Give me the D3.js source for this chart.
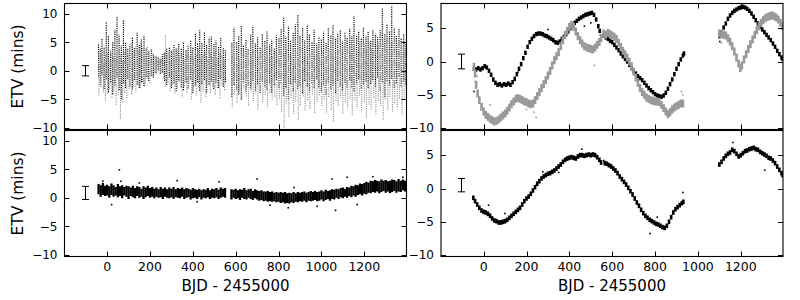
<!DOCTYPE html>
<html>
<head>
<meta charset="utf-8">
<script src="https://cdn.jsdelivr.net/npm/d3@7"></script>
<style>
  html, body { margin: 0; padding: 0; background: #fff; }
  svg { display: block; font-family: "DejaVu Sans", sans-serif; }
</style>
</head>
<body>
<svg id="chart" width="800" height="300"></svg>
<script>
// ---------------- DATA ----------------
const xTicks = [0, 200, 400, 600, 800, 1000, 1200];
const yTicksLeft = [-10, -5, 0, 5, 10];
const yTicksRight = [-10, -5, 0, 5];
const xLabel = "BJD - 2455000";
const yLabel = "ETV (mins)";

// Top-left: scatter streaks [BJD, low ETV, high ETV]
const tlBlack = [
  [-40,-1.0,4.8],[-32,-2.5,3.9],[-24,-0.8,5.6],[-14,-3.2,4.2],[-4,-1.5,8.6],[6,-3.8,6.1],[16,-2.0,3.5],
  [26,-4.1,5.2],[36,-2.6,7.2],[46,-1.2,9.6],[56,-3.4,6.3],[66,-5.0,4.4],[76,-2.2,8.9],[86,-3.0,5.1],
  [96,-1.4,3.8],[106,-2.8,4.6],[118,-3.3,5.9],[128,-1.6,4.1],[140,-2.4,6.8],[150,-3.0,4.7],[160,-2.0,5.5],
  [172,-2.7,6.2],[182,-1.1,4.0],[194,-1.8,3.4],[206,-0.9,3.8],[216,-1.2,2.9],[228,-0.4,2.6],[238,0.2,2.4],
  [248,-0.5,2.2],[258,-0.3,2.9],[268,-1.8,3.3],[278,-2.5,3.9],[290,-1.2,4.2],[300,-3.0,3.6],[312,-2.2,4.5],
  [322,-3.6,3.9],[334,-1.7,4.8],[346,-2.9,4.0],[356,-3.4,5.1],[368,-2.0,3.7],[378,-3.1,4.4],[390,-1.5,5.4],
  [400,-3.9,4.1],[412,-2.6,6.6],[422,-2.0,4.9],[432,-3.5,7.3],[442,-2.3,5.0],[454,-1.6,6.9],[464,-3.8,4.6],
  [476,-2.4,5.8],[486,-1.9,6.2],[498,-3.2,4.7],[508,-2.1,5.3],[520,-3.0,4.3],[530,-1.4,5.9],[542,-2.8,4.1],
  [552,-2.0,3.6],[582,-4.6,4.9],[592,-2.5,7.6],[604,-3.3,5.2],[614,-4.2,6.1],[626,-5.1,7.9],[636,-2.0,4.4],
  [648,-3.7,5.6],[658,-2.6,3.9],[670,-3.1,6.3],[680,-1.8,7.9],[692,-3.5,4.8],[702,-2.4,5.9],[714,-3.9,4.2],
  [724,-1.9,6.5],[736,-2.7,5.3],[746,-3.3,6.9],[758,-2.1,4.6],[768,-3.8,5.5],[780,-2.5,4.0],[790,-1.6,6.2],
  [802,-3.0,5.7],[812,-2.2,7.4],[824,-4.4,9.4],[834,-2.9,6.0],[846,-5.0,7.8],[856,-2.3,5.4],[868,-3.6,6.7],
  [878,-2.0,8.1],[890,-3.2,9.8],[900,-2.6,6.2],[912,-3.9,7.5],[922,-1.8,5.3],[934,-2.7,8.0],[944,-3.5,6.4],
  [956,-2.2,5.1],[966,-3.0,7.2],[978,-1.5,4.8],[988,-2.9,6.0],[1000,-3.6,5.5],[1010,-2.4,6.9],[1022,-4.2,5.0],
  [1032,-2.0,7.6],[1044,-3.3,6.3],[1054,-2.6,8.0],[1066,-3.9,5.8],[1076,-1.8,6.6],[1088,-2.8,7.1],[1098,-3.4,5.2],
  [1110,-2.1,6.8],[1120,-3.0,5.9],[1132,-1.7,7.4],[1142,-2.9,6.1],[1152,-3.6,9.6],[1164,-2.2,6.3],[1174,-1.5,7.0],
  [1186,-3.1,5.6],[1196,-2.4,7.7],[1208,-1.9,6.0],[1218,-3.0,6.8],[1230,-2.3,5.4],[1240,-1.6,7.3],[1252,-2.8,6.5],
  [1262,-1.2,5.9],[1274,-3.5,7.1],[1284,-2.0,11.1],[1296,-4.6,6.4],[1306,-1.8,8.2],[1318,-2.6,6.9],[1328,-1.4,11.4],
  [1340,-3.0,7.5],[1350,-2.2,6.1],[1362,-1.0,7.4],[1372,-2.7,5.8],[1384,-1.9,6.6],[1394,-2.4,4.9]
];
const tlGrey = [
  [-38,-4.4,2.0],[-28,-2.9,3.6],[-18,-3.8,1.6],[-8,-5.2,2.9],[2,-4.0,3.4],[12,-3.2,1.9],[22,-4.7,3.1],
  [32,-3.5,2.5],[42,-6.0,2.2],[52,-4.3,3.8],[62,-8.4,2.7],[72,-5.5,1.8],[82,-3.9,3.3],[92,-4.8,4.1],
  [102,-3.2,3.0],[114,-4.1,5.0],[124,-2.7,3.9],[134,-3.6,4.4],[146,-2.5,3.5],[156,-3.0,5.1],[166,-2.0,4.0],
  [178,-2.6,3.2],[188,-1.4,4.2],[200,-2.2,2.9],[210,-0.9,3.3],[222,-0.6,2.6],[232,-0.2,2.3],[242,0.0,2.2],
  [252,-0.4,2.5],[262,-1.5,3.0],[272,-2.8,6.3],[284,-2.0,3.4],[294,-3.6,2.8],[306,-2.4,3.5],[316,-4.0,2.6],
  [328,-3.1,3.9],[338,-2.0,2.4],[350,-4.5,3.1],[360,-2.7,2.0],[372,-3.8,3.6],[382,-2.3,2.7],[394,-5.0,3.3],
  [404,-3.3,2.2],[416,-4.4,3.0],[426,-2.9,3.8],[438,-5.6,2.5],[448,-3.7,2.9],[460,-4.6,3.4],[470,-2.5,2.1],
  [482,-3.9,3.2],[492,-2.8,2.6],[504,-4.2,3.6],[514,-3.0,2.3],[526,-4.8,3.1],[536,-2.6,2.8],[548,-3.4,2.0],
  [584,-6.5,3.3],[594,-4.2,2.5],[606,-5.6,3.7],[616,-3.6,2.2],[628,-5.0,3.0],[638,-3.1,3.5],[650,-4.5,2.4],
  [660,-6.1,3.1],[672,-3.7,2.7],[682,-5.3,3.9],[694,-4.0,2.0],[704,-6.8,3.3],[716,-3.5,2.6],[726,-5.5,3.6],
  [738,-4.2,2.1],[748,-6.3,3.0],[760,-3.9,3.8],[770,-5.1,2.4],[782,-4.6,3.3],[792,-6.0,2.8],[804,-4.9,3.6],
  [814,-7.2,2.3],[826,-10.0,3.0],[836,-5.8,3.7],[848,-8.1,2.5],[858,-4.8,3.2],[870,-7.6,2.0],[880,-5.4,3.5],
  [892,-8.6,2.7],[902,-6.0,3.9],[914,-4.5,2.2],[924,-7.0,3.1],[936,-5.2,2.6],[946,-6.6,3.4],[958,-4.1,2.0],
  [968,-7.4,3.0],[980,-5.5,3.8],[990,-4.3,2.4],[1002,-6.2,3.5],[1012,-5.0,2.7],[1024,-7.3,3.2],[1034,-4.6,4.0],
  [1046,-6.8,2.9],[1056,-8.9,3.6],[1068,-5.3,2.5],[1078,-6.1,3.9],[1090,-4.8,3.1],[1100,-7.5,4.2],[1112,-5.6,2.8],
  [1122,-6.5,3.7],[1134,-4.9,4.4],[1144,-7.9,3.3],[1156,-5.2,4.6],[1166,-6.4,3.5],[1178,-4.4,5.0],[1188,-7.0,3.9],
  [1200,-5.5,4.8],[1210,-8.3,4.1],[1222,-5.9,5.3],[1232,-6.8,3.8],[1244,-4.7,5.6],[1254,-7.6,4.5],[1266,-5.3,5.1],
  [1276,-6.2,4.0],[1288,-8.6,5.7],[1298,-5.0,4.3],[1310,-6.9,5.9],[1320,-4.6,4.6],[1332,-7.2,5.2],[1342,-5.7,6.2],
  [1354,-6.4,4.8],[1364,-4.9,5.5],[1376,-7.7,4.2],[1386,-5.1,5.0],[1396,-3.8,4.4]
];

// Bottom-left: scatter band [BJD, low ETV, high ETV] and isolated points [BJD, ETV]
const blBand = [
  [-40,0.6,2.4],[-30,0.2,2.2],[-20,0.5,2.6],[-10,0.3,2.1],[0,0.4,2.3],[10,0.0,2.0],[20,0.5,2.5],[30,0.2,2.2],
  [40,0.4,1.9],[50,0.1,2.4],[60,0.3,2.0],[70,-0.1,2.2],[80,0.4,1.9],[90,0.2,2.1],[100,-0.2,2.0],[110,0.3,1.8],
  [120,0.1,2.1],[130,-0.1,1.7],[140,0.3,2.0],[150,0.0,1.9],[160,0.2,1.6],[170,-0.2,2.0],[180,0.1,1.8],[190,0.3,2.1],
  [200,0.0,1.7],[210,0.2,1.9],[220,-0.1,1.6],[230,0.2,1.8],[240,0.0,1.5],[250,0.1,1.9],[260,-0.2,1.6],[270,0.2,1.8],
  [280,0.0,1.5],[290,-0.1,1.8],[300,0.1,1.6],[310,-0.2,1.9],[320,0.1,1.5],[330,0.0,1.7],[340,-0.1,1.6],[350,0.2,1.8],
  [360,-0.2,1.5],[370,0.0,1.7],[380,0.1,1.6],[390,-0.3,1.4],[400,-0.1,1.7],[410,0.0,1.5],[420,-0.2,1.4],[430,0.1,1.6],
  [440,-0.3,1.3],[450,0.0,1.5],[460,-0.1,1.4],[470,0.1,1.7],[480,-0.2,1.3],[490,0.0,1.6],[500,-0.1,1.5],[510,0.1,1.7],
  [520,-0.2,1.4],[530,0.0,1.8],[540,0.2,1.6],[550,0.0,1.7],
  [580,-0.3,1.5],[590,0.0,1.4],[600,-0.2,1.6],[610,-0.1,1.3],[620,-0.4,1.5],[630,0.0,1.4],[640,-0.2,1.7],[650,-0.3,1.3],
  [660,0.0,1.5],[670,-0.2,1.6],[680,-0.4,1.2],[690,-0.1,1.5],[700,-0.3,1.3],[710,-0.5,1.2],[720,-0.4,1.3],[730,-0.6,1.1],
  [740,-0.5,1.1],[750,-0.7,1.2],[760,-0.6,1.0],[770,-0.7,1.1],[780,-0.6,0.9],[790,-0.8,1.0],[800,-0.7,0.9],[810,-0.9,1.0],
  [820,-0.8,0.9],[830,-1.0,1.0],[840,-0.9,0.8],[850,-1.0,0.9],[860,-0.8,0.8],[870,-0.9,1.0],[880,-0.7,0.8],[890,-0.8,1.0],
  [900,-0.6,0.9],[910,-0.7,1.0],[920,-0.5,1.1],[930,-0.8,0.9],[940,-0.5,1.0],[950,-0.6,1.2],[960,-0.5,1.0],[970,-0.4,1.2],
  [980,-0.6,1.0],[990,-0.5,1.1],[1000,-0.3,1.3],[1010,-0.6,1.1],[1020,-0.4,1.4],[1030,-0.2,1.2],[1040,-0.5,1.3],[1050,-0.2,1.5],
  [1060,-0.3,1.4],[1070,0.0,1.6],[1080,-0.2,1.5],[1090,0.1,1.7],[1100,-0.1,1.8],[1110,0.2,1.6],[1120,0.0,1.9],[1130,0.3,1.8],
  [1140,0.1,2.1],[1150,0.4,2.0],[1160,0.2,2.3],[1170,0.5,2.2],[1180,0.6,2.5],[1190,0.4,2.4],[1200,0.7,2.6],[1210,0.6,2.8],
  [1220,0.9,2.7],[1230,0.8,3.0],[1240,1.0,2.9],[1250,0.9,3.1],[1260,1.1,3.0],[1270,0.8,2.9],[1280,1.0,3.2],[1290,1.2,3.0],
  [1300,0.9,3.1],[1310,1.1,2.9],[1320,0.8,3.0],[1330,1.0,3.2],[1340,1.2,3.1],[1350,0.9,2.9],[1360,1.1,3.3],[1370,1.0,3.0],
  [1380,1.3,3.2],[1390,1.1,3.0]
];
const blOutliers = [
  [57,4.9],[64,2.9],[21,-1.2],[327,3.0],[700,3.3],[1050,3.3],[1120,3.6],[1066,-2.2],[845,-1.75],
  [1167,-1.2],[522,2.8],[872,1.8],[-20,2.9],[150,2.6],[420,-0.7],[760,-1.3],[980,-1.5],[1240,3.7],[1380,3.6]
];

// Top-right: [BJD, ETV]
const trBlack = [
  [-45,-1.1],[-35,-1.2],[-25,-1.0],[-15,-1.2],[-5,-1.0],[5,-0.7],[15,-0.9],[25,-1.4],[35,-2.0],[45,-2.7],
  [55,-3.2],[65,-3.5],[75,-3.4],[85,-3.6],[95,-3.4],[105,-3.5],[115,-3.3],[125,-3.5],[135,-3.1],[145,-2.6],
  [155,-1.9],[165,-1.1],[175,-0.4],[185,0.5],[195,1.3],[205,2.2],[215,2.9],[225,3.4],[235,3.8],[245,4.1],
  [255,4.2],[265,4.2],[275,4.1],[285,3.9],[295,3.8],[305,3.6],[315,3.4],[325,3.2],[335,2.9],[345,2.8],
  [355,3.0],[365,3.4],[375,3.7],[385,4.1],[395,4.5],[405,5.0],[415,5.4],[425,5.8],[435,6.1],[445,6.4],
  [455,6.6],[465,6.8],[475,7.0],[485,7.1],[495,7.2],[505,7.3],[515,7.0],[525,6.3],[535,5.3],[542,4.6],
  [560,3.9],[570,3.6],[580,3.4],[590,3.1],[600,2.9],[610,2.5],[620,2.1],[630,1.7],[640,1.2],[650,0.8],
  [660,0.4],[670,0.0],[680,-0.5],[690,-1.0],[700,-1.4],[710,-1.8],[720,-2.2],[730,-2.5],[740,-2.8],[750,-3.2],
  [760,-3.6],[770,-4.0],[780,-4.3],[790,-4.6],[800,-4.9],[810,-5.1],[820,-5.2],[830,-5.3],[840,-5.1],[850,-4.7],
  [860,-4.1],[870,-3.4],[880,-2.7],[890,-1.9],[900,-1.1],[910,-0.4],[920,0.3],[930,0.9],[935,1.2],
  [1100,3.8],[1110,4.4],[1120,5.1],[1130,5.7],[1140,6.4],[1150,6.9],[1160,7.3],[1170,7.6],[1180,7.8],[1190,8.0],
  [1200,8.1],[1210,8.2],[1220,8.1],[1230,7.9],[1240,7.6],[1250,7.2],[1260,6.7],[1270,6.2],[1280,5.7],[1290,5.2],
  [1300,4.8],[1310,4.4],[1320,4.0],[1330,3.6],[1340,3.2],[1350,2.7],[1360,2.2],[1370,1.6],[1380,1.1],[1390,0.6],[1395,0.4]
];
const trBlackOutliers = [[-45,-4.5],[160,-1.6],[470,5.3],[500,5.8],[545,4.0],[860,-4.2],[1102,3.0],[300,4.8],[620,3.0]];
const trGrey = [
  [-45,-0.8],[-40,-1.8],[-35,-3.5],[-28,-4.8],[-20,-5.8],[-10,-6.8],[0,-7.5],[10,-8.0],[20,-8.3],[30,-8.6],
  [40,-8.8],[50,-9.0],[60,-8.9],[70,-8.7],[80,-8.4],[90,-8.1],[100,-7.8],[110,-7.4],[120,-6.9],[130,-6.4],
  [140,-6.0],[150,-5.6],[160,-5.5],[170,-5.6],[180,-5.8],[190,-6.0],[200,-6.1],[210,-6.3],[220,-6.4],[230,-6.3],
  [240,-5.8],[250,-5.2],[260,-4.6],[270,-4.0],[280,-3.4],[290,-2.8],[300,-2.1],[310,-1.4],[320,-0.6],[330,0.2],
  [340,0.8],[350,1.4],[360,2.3],[370,3.2],[380,4.0],[390,4.6],[400,5.2],[410,5.5],[420,5.2],[430,4.5],
  [440,3.8],[450,3.2],[460,2.7],[470,2.3],[480,2.1],[490,2.0],[500,1.9],[510,1.8],[520,2.1],[530,2.5],
  [540,2.9],[548,3.5],
  [560,4.2],[570,4.0],[580,4.3],[590,4.1],[600,3.9],[610,3.7],[620,3.4],[630,2.8],[640,2.2],[650,1.6],
  [660,1.1],[670,0.6],[680,0.0],[690,-0.7],[700,-1.5],[710,-2.4],[720,-3.2],[730,-4.0],[740,-4.6],[750,-5.0],
  [760,-5.4],[770,-5.6],[780,-5.8],[790,-5.9],[800,-6.0],[810,-6.0],[820,-6.1],[830,-6.5],[840,-7.0],[850,-7.5],
  [860,-7.9],[870,-7.6],[880,-7.2],[890,-6.9],[900,-6.7],[910,-6.5],[920,-6.3],[930,-6.3],
  [1100,4.2],[1110,4.1],[1120,4.0],[1130,3.9],[1140,3.5],[1150,3.0],[1160,2.3],[1170,1.5],[1180,0.6],[1190,-0.3],
  [1198,-1.0],[1205,-0.6],[1215,0.3],[1225,1.1],[1235,1.9],[1245,2.6],[1255,3.3],[1265,4.0],[1275,4.7],[1285,5.3],
  [1295,5.8],[1305,6.2],[1315,6.5],[1325,6.7],[1335,6.8],[1345,6.9],[1355,6.8],[1365,6.6],[1375,6.3],[1385,5.8],[1395,5.3]
];
const trGreyOutliers = [[-40,-3.0],[30,-6.5],[200,-7.2],[245,-8.4],[235,-7.6],[517,-0.6],[923,-4.5],[1109,2.8],[930,-5.0],[-30,-2.2]];

// Bottom-right: [BJD, ETV]
const brBlack = [
  [-48,-1.4],[-40,-1.9],[-30,-2.4],[-20,-2.9],[-10,-3.3],[0,-3.5],[10,-3.6],[20,-3.8],[30,-4.1],[40,-4.5],
  [50,-4.8],[60,-4.9],[70,-5.1],[80,-5.1],[90,-5.0],[100,-4.9],[110,-4.7],[120,-4.4],[130,-4.1],[140,-3.8],
  [150,-3.5],[160,-3.2],[170,-2.9],[180,-2.4],[190,-1.9],[200,-1.5],[210,-1.2],[220,-0.8],[230,-0.3],[240,0.2],
  [250,0.7],[260,1.1],[270,1.5],[280,1.8],[290,2.0],[300,2.2],[310,2.3],[320,2.5],[330,2.7],[340,3.0],
  [350,3.3],[360,3.6],[370,4.0],[380,4.3],[390,4.5],[400,4.6],[410,4.7],[420,4.6],[430,4.5],[440,4.8],
  [450,5.0],[460,5.0],[470,4.9],[480,5.0],[490,5.1],[500,5.0],[510,5.1],[520,5.0],[530,4.7],[540,4.3],[548,3.9],
  [565,3.8],[575,3.7],[585,3.5],[595,3.3],[605,3.0],[615,2.7],[625,2.3],[635,1.8],[645,1.4],[655,1.0],
  [665,0.6],[675,0.1],[685,-0.4],[695,-0.9],[705,-1.5],[715,-2.1],[725,-2.6],[735,-3.2],[745,-3.7],[755,-4.1],
  [765,-4.4],[775,-4.7],[785,-4.9],[795,-5.1],[805,-5.3],[815,-5.4],[825,-5.6],[835,-5.8],[845,-5.9],[855,-5.6],
  [865,-5.0],[875,-4.3],[885,-3.6],[895,-3.1],[905,-2.8],[915,-2.5],[925,-2.2],[932,-2.0],
  [1100,3.6],[1110,4.0],[1120,4.5],[1130,4.9],[1140,5.2],[1150,5.4],[1160,5.8],[1170,5.6],[1180,5.2],[1190,4.8],
  [1200,5.0],[1210,5.3],[1220,5.6],[1230,5.7],[1240,5.9],[1250,6.0],[1260,6.1],[1270,5.9],[1280,5.8],[1290,5.5],
  [1300,5.3],[1310,5.1],[1320,4.9],[1330,4.6],[1340,4.5],[1350,4.2],[1360,3.8],[1370,3.3],[1380,2.8],[1390,2.3],[1395,2.0]
];
const brOutliers = [[23,-2.5],[99,-3.75],[276,2.5],[458,5.9],[777,-6.75],[930,-0.6],[1163,6.9],[1312,2.75],[560,4.2],[810,-4.3],[350,2.4]];

// Typical timing uncertainty shown at BJD -100: [BJD, ETV, error]
const errTL = [-100, 0.0, 0.9];
const errTR = [-100, 0.0, 1.1];
const errBL = [-100, 0.85, 1.15];
const errBR = [-100, 0.5, 1.0];

// ---------------- DRAWING ----------------
const svg = d3.select("#chart");
const BLACK = "#000", GREY = "#999999";
const xDomain = [-199, 1397];
const leftDomain = [-10.3, 11.8];
const rightDomain = [-10.2, 8.7];

const panels = [
  {id:"tl", x0:64.5, y0:3.5, w:342, h:126, yd:leftDomain, yt:yTicksLeft, xlab:false, ylab:true},
  {id:"tr", x0:441, y0:3.5, w:342, h:126, yd:rightDomain, yt:yTicksRight, xlab:false, ylab:false},
  {id:"bl", x0:64.5, y0:130.5, w:342, h:126, yd:leftDomain, yt:yTicksLeft, xlab:true, ylab:true},
  {id:"br", x0:441, y0:130.5, w:342, h:126, yd:rightDomain, yt:yTicksRight, xlab:true, ylab:false}
];

const defs = svg.append("defs");
panels.forEach(p => {
  p.x = d3.scaleLinear().domain(xDomain).range([p.x0, p.x0 + p.w]);
  p.y = d3.scaleLinear().domain(p.yd).range([p.y0 + p.h, p.y0]);
  defs.append("clipPath").attr("id", "clip-" + p.id)
    .append("rect").attr("x", p.x0).attr("y", p.y0).attr("width", p.w).attr("height", p.h);
  p.g = svg.append("g").attr("clip-path", `url(#clip-${p.id})`);
});
const P = Object.fromEntries(panels.map(p => [p.id, p]));

function streaks(p, data, color, width, dash) {
  p.g.append("g").selectAll("line").data(data).join("line")
    .attr("x1", d => p.x(d[0])).attr("x2", d => p.x(d[0]))
    .attr("y1", d => p.y(d[1])).attr("y2", d => p.y(d[2]))
    .attr("stroke", color).attr("stroke-width", width)
    .attr("stroke-dasharray", dash);
}
function band(p, data, color, spread, width) {
  p.g.append("g").selectAll("rect").data(data).join("rect")
    .attr("x", d => p.x(d[0]) - width / 2)
    .attr("y", d => p.y(d[1] + spread))
    .attr("width", width)
    .attr("height", d => p.y(d[1] - spread) - p.y(d[1] + spread))
    .attr("fill", color);
}
function dots(p, data, color, s) {
  p.g.append("g").selectAll("rect").data(data).join("rect")
    .attr("x", d => p.x(d[0]) - s / 2).attr("y", d => p.y(d[1]) - s / 2)
    .attr("width", s).attr("height", s).attr("fill", color);
}
function errbar(p, e) {
  const g = svg.append("g").attr("stroke", BLACK).attr("stroke-width", 1).attr("fill", "none");
  const cx = Math.round(p.x(e[0])) - 0.5;
  g.append("line").attr("x1", cx).attr("x2", cx).attr("y1", p.y(e[1] - e[2])).attr("y2", p.y(e[1] + e[2]));
  [e[1] - e[2], e[1] + e[2]].forEach(v =>
    g.append("line").attr("x1", cx - 3.5).attr("x2", cx + 3.5).attr("y1", p.y(v)).attr("y2", p.y(v)));
}

// Top-left
streaks(P.tl, tlBlack, BLACK, 1.15, "1.2 1");
streaks(P.tl, tlGrey, GREY, 1.15, "1.2 1");
// Top-right
band(P.tr, trBlack, BLACK, 0.33, 2.6);
dots(P.tr, trBlackOutliers, BLACK, 1.6);
band(P.tr, trGrey, GREY, 0.6, 2.6);
dots(P.tr, trGreyOutliers, GREY, 1.6);
// Bottom-left
streaks(P.bl, blBand, BLACK, 2.3, null);
dots(P.bl, blOutliers, BLACK, 1.6);
// Bottom-right
band(P.br, brBlack, BLACK, 0.35, 2.6);
dots(P.br, brOutliers, BLACK, 1.6);

errbar(P.tl, errTL); errbar(P.tr, errTR); errbar(P.bl, errBL); errbar(P.br, errBR);

// Frames, ticks and labels
const fmt = v => (v < 0 ? "\u2212" + Math.abs(v) : String(v));
panels.forEach(p => {
  const ax = svg.append("g").attr("stroke", BLACK).attr("stroke-width", 1);
  const T = 5;
  p.yt.forEach(v => {
    const yy = Math.round(p.y(v)) + 0.5;
    ax.append("line").attr("x1", p.x0).attr("x2", p.x0 + T).attr("y1", yy).attr("y2", yy);
    ax.append("line").attr("x1", p.x0 + p.w - T).attr("x2", p.x0 + p.w).attr("y1", yy).attr("y2", yy);
  });
  xTicks.forEach(v => {
    const xx = Math.round(p.x(v)) + 0.5;
    ax.append("line").attr("x1", xx).attr("x2", xx).attr("y1", p.y0).attr("y2", p.y0 + T);
    ax.append("line").attr("x1", xx).attr("x2", xx).attr("y1", p.y0 + p.h - T).attr("y2", p.y0 + p.h);
  });
  svg.append("rect").attr("x", p.x0).attr("y", p.y0).attr("width", p.w).attr("height", p.h)
    .attr("fill", "none").attr("stroke", BLACK).attr("stroke-width", 1.1);

  svg.append("g").selectAll("text").data(p.yt).join("text")
    .attr("x", p.x0 - 7).attr("y", d => p.y(d)).attr("dy", "0.36em")
    .attr("text-anchor", "end").attr("font-size", 12).attr("fill", BLACK)
    .text(fmt);
  if (p.xlab) {
    svg.append("g").selectAll("text").data(xTicks).join("text")
      .attr("x", d => p.x(d)).attr("y", 270.5)
      .attr("text-anchor", "middle").attr("font-size", 12.5).attr("fill", BLACK)
      .text(fmt);
    svg.append("text").attr("x", p.x0 + p.w / 2).attr("y", 291)
      .attr("text-anchor", "middle").attr("font-size", 15).attr("fill", BLACK).text(xLabel);
  }
  if (p.ylab) {
    svg.append("text").attr("transform", `translate(23,${p.y0 + p.h / 2}) rotate(-90)`)
      .attr("text-anchor", "middle").attr("font-size", 15.5).attr("fill", BLACK).text(yLabel);
  }
});
</script>
</body>
</html>
